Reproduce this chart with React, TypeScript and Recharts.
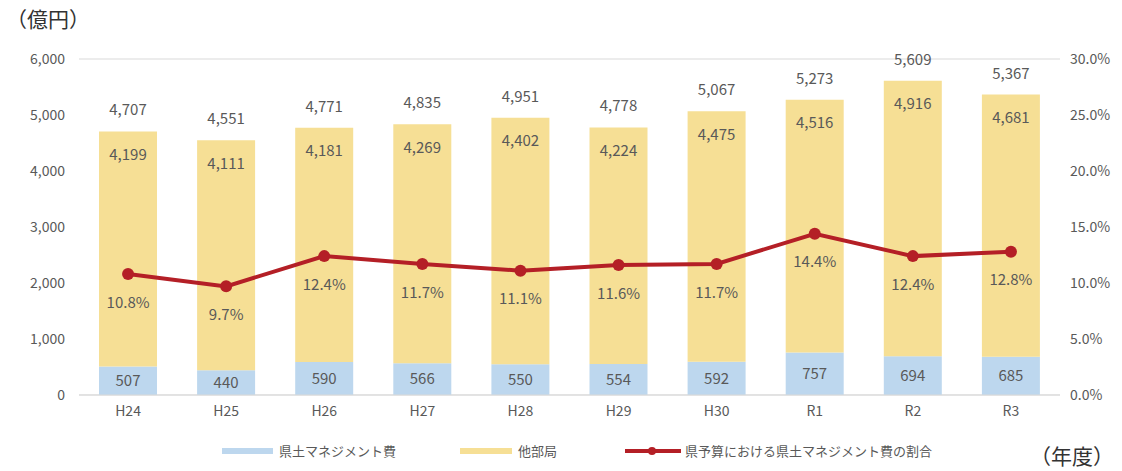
import React from "react";
import {
  ComposedChart,
  Bar,
  Line,
  XAxis,
  YAxis,
  CartesianGrid,
  Legend,
  LabelList,
} from "recharts";

const years = ["H24", "H25", "H26", "H27", "H28", "H29", "H30", "R1", "R2", "R3"];
const prefMgmt = [507, 440, 590, 566, 550, 554, 592, 757, 694, 685];
const otherDept = [4199, 4111, 4181, 4269, 4402, 4224, 4475, 4516, 4916, 4681];
const totals = [4707, 4551, 4771, 4835, 4951, 4778, 5067, 5273, 5609, 5367];
const ratio = [10.8, 9.7, 12.4, 11.7, 11.1, 11.6, 11.7, 14.4, 12.4, 12.8];

const leftTicks = [0, 1000, 2000, 3000, 4000, 5000, 6000];
const rightTicks = [0, 5, 10, 15, 20, 25, 30];

const BLUE = "#BDD7EE";
const YELLOW = "#F6DF95";
const RED = "#B41F26";
const TEXT = "#595959";
const FONT = "'Noto Sans CJK JP', 'Noto Sans', sans-serif";

const data = years.map((y, i) => ({
  name: y,
  mgmt: prefMgmt[i],
  other: otherDept[i],
  total: totals[i],
  ratio: ratio[i],
}));

const fmt = (v: any) => Number(v).toLocaleString("en-US");

const LegendBox = () => (
  <div style={{ position: "relative", width: 1122, height: 20, fontFamily: FONT, fontSize: 13, color: TEXT }}>
    <div style={{ position: "absolute", left: 222, top: 7, width: 51, height: 6, background: BLUE }} />
    <span style={{ position: "absolute", left: 279, top: 0, lineHeight: "20px" }}>県土マネジメント費</span>
    <div style={{ position: "absolute", left: 460, top: 7, width: 52, height: 6, background: YELLOW }} />
    <span style={{ position: "absolute", left: 518, top: 0, lineHeight: "20px" }}>他部局</span>
    <div style={{ position: "absolute", left: 625, top: 8, width: 56, height: 4, background: RED }} />
    <div style={{ position: "absolute", left: 648, top: 6, width: 8, height: 8, borderRadius: 4, background: RED }} />
    <span style={{ position: "absolute", left: 685, top: 0, lineHeight: "20px" }}>県予算における県土マネジメント費の割合</span>
  </div>
);

export default function App() {
  return (
    <div style={{ position: "absolute", left: 0, top: 0, width: 1122, height: 471, background: "#fff", fontFamily: FONT }}>
      <div style={{ position: "absolute", left: 6, top: 4, fontSize: 21, color: "#333", lineHeight: "28px" }}>（億円）</div>
      <div style={{ position: "absolute", left: 1030, top: 441, fontSize: 21, color: "#333", lineHeight: "28px" }}>（年度）</div>
      <ComposedChart
        width={1122}
        height={471}
        data={data}
        margin={{ top: 59, right: 0, left: 0, bottom: 0 }}
      >
        <CartesianGrid vertical={false} stroke="#D9D9D9" />
        <XAxis
          dataKey="name"
          height={76}
          tickLine={false}
          axisLine={{ stroke: "#D9D9D9" }}
          tick={{ fill: TEXT, fontSize: 14, fontFamily: FONT }}
          tickMargin={5}
        />
        <YAxis
          yAxisId="left"
          width={79}
          domain={[0, 6000]}
          ticks={leftTicks}
          tickFormatter={fmt}
          axisLine={false}
          tickLine={false}
          tickMargin={8}
          tick={{ fill: TEXT, fontSize: 14, fontFamily: FONT }}
        />
        <YAxis
          yAxisId="right"
          orientation="right"
          width={62}
          domain={[0, 30]}
          ticks={rightTicks}
          tickFormatter={(v: any) => `${Number(v).toFixed(1)}%`}
          axisLine={false}
          tickLine={false}
          tickMargin={4}
          tick={{ fill: TEXT, fontSize: 14, fontFamily: FONT, textAnchor: "start" }}
        />
        <Legend
          verticalAlign="middle"
          align="center"
          wrapperStyle={{ top: 441, left: 0, width: 1122 }}
          content={() => <LegendBox />}
        />
        <Bar yAxisId="left" dataKey="mgmt" stackId="a" fill={BLUE} barSize={58} isAnimationActive={false}>
          <LabelList dataKey="mgmt" position="center" fill={TEXT} fontSize={15} fontFamily={FONT} formatter={fmt} />
        </Bar>
        <Bar yAxisId="left" dataKey="other" stackId="a" fill={YELLOW} barSize={58} isAnimationActive={false}>
          <LabelList dataKey="other" position="insideTop" offset={18} fill={TEXT} fontSize={15} fontFamily={FONT} formatter={fmt} />
          <LabelList dataKey="total" position="top" offset={16} fill={TEXT} fontSize={15} fontFamily={FONT} formatter={fmt} />
        </Bar>
        <Line
          yAxisId="right"
          dataKey="ratio"
          stroke={RED}
          strokeWidth={4}
          dot={{ r: 6, fill: RED, stroke: RED, strokeWidth: 0 }}
          activeDot={false}
          isAnimationActive={false}
        >
          <LabelList dataKey="ratio" position="bottom" offset={23} fill={TEXT} fontSize={15} fontFamily={FONT} formatter={(v: any) => `${Number(v).toFixed(1)}%`} />
        </Line>
      </ComposedChart>
    </div>
  );
}
